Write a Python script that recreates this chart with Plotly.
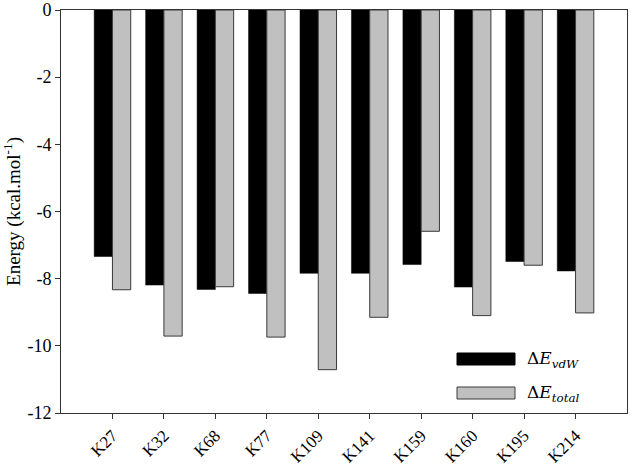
import plotly.graph_objects as go

categories = ["K27", "K32", "K68", "K77", "K109", "K141", "K159", "K160", "K195", "K214"]
dE_vdw = [-7.34, -8.19, -8.32, -8.44, -7.84, -7.84, -7.58, -8.25, -7.49, -7.77]
dE_total = [-8.33, -9.71, -8.24, -9.74, -10.71, -9.15, -6.59, -9.10, -7.60, -9.02]
y_ticks = [0, -2, -4, -6, -8, -10, -12]
y_ticktext = ["0", "-2", "-4", "-6", "-8", "-10", "-12"]

font_serif = "Liberation Serif"

fig = go.Figure()
fig.add_trace(go.Bar(x=categories, y=dE_vdw, name="ΔE vdW",
                     marker=dict(color="#000000", line=dict(color="#000000", width=0.5)),
                     showlegend=False))
fig.add_trace(go.Bar(x=categories, y=dE_total, name="ΔE total",
                     marker=dict(color="#c0c0c0", line=dict(color="#3a3a3a", width=1)),
                     showlegend=False))

T, B, L, R = 10, 51, 61, 3
fig.update_layout(
    width=630, height=464,
    margin=dict(l=L, r=R, t=T, b=B),
    paper_bgcolor="white", plot_bgcolor="white",
    barmode="group", bargap=0.29, bargroupgap=0,
    font=dict(family=font_serif, size=17, color="black"),
)
fig.update_xaxes(
    range=[-1, 10], tickangle=-45, ticks="outside", ticklen=5, tickcolor="#333",
    showline=True, linecolor="#333", linewidth=1, mirror=True, showgrid=False,
    automargin=False,
    tickfont=dict(family=font_serif, size=17, color="black"),
)
fig.update_yaxes(
    range=[-12, 0], tickvals=y_ticks, ticktext=y_ticktext,
    ticks="outside", ticklen=5, tickcolor="#333",
    showline=True, linecolor="#333", linewidth=1, mirror=True, showgrid=False,
    zeroline=False, automargin=False,
    tickfont=dict(family=font_serif, size=18, color="black"),
    title=dict(text="Energy (kcal.mol<sup>-1</sup>)", standoff=8,
               font=dict(family=font_serif, size=19, color="black")),
)

# custom legend
legend_items = [("#000000", "#000000", "Δ<i>E<sub>vdW</sub></i>", 359),
                ("#c0c0c0", "#3a3a3a", "Δ<i>E<sub>total</sub></i>", 393)]
pw, ph = 630 - L - R, 464 - T - B
for fill, line, text, yc in legend_items:
    x0 = (457 - L) / pw
    x1 = (515 - L) / pw
    ya = 1 - (yc - 6 - T) / ph
    yb = 1 - (yc + 6 - T) / ph
    fig.add_shape(type="rect", xref="paper", yref="paper", x0=x0, x1=x1, y0=yb, y1=ya,
                  fillcolor=fill, line=dict(color=line, width=1))
    fig.add_annotation(xref="paper", yref="paper", x=(525 - L) / pw, y=1 - (yc - T) / ph,
                       xanchor="left", yanchor="middle", showarrow=False,
                       text=text,
                       font=dict(family="DejaVu Serif", size=17, color="black"))

fig.write_html("out.html", config={"displayModeBar": False},
               post_script="document.body.style.margin='0px';")
